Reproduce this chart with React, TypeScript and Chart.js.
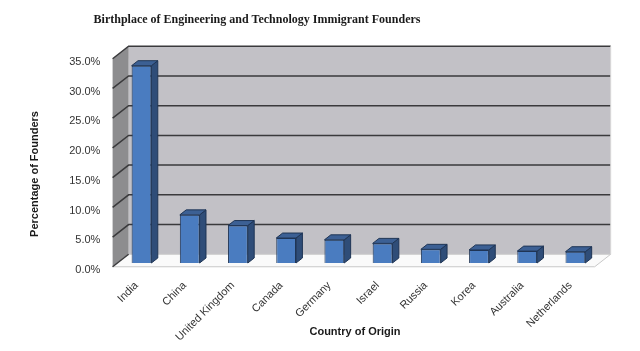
import React, { useEffect, useRef } from "react";
import { Chart, registerables } from "chart.js";

Chart.register(...registerables);

const countries = ["India", "China", "United Kingdom", "Canada", "Germany", "Israel", "Russia", "Korea", "Australia", "Netherlands"];
const founderShare = [33.2, 8.1, 6.3, 4.2, 3.9, 3.3, 2.3, 2.2, 2.0, 1.9];
const yTicks = [0, 5, 10, 15, 20, 25, 30, 35];
const chartTitle = "Birthplace of Engineering and Technology Immigrant Founders";
const yTitle = "Percentage of Founders";
const xTitle = "Country of Origin";

const DX = 16;
const DY = -12.5;
const FRONT = 0.3;
const BACK = 0.7;
const BAR_DEPTH = 0.4;

const wallPlugin = {
  id: "wall3d",
  beforeDatasetsDraw(chart: any) {
    const { ctx, chartArea } = chart;
    const { left, right, top, bottom } = chartArea;
    const y = chart.scales.y;
    const fx = -FRONT * DX, fy = -FRONT * DY;
    const bx = BACK * DX, by = BACK * DY;
    ctx.save();
    // back wall
    ctx.fillStyle = "#c2c1c6";
    ctx.fillRect(left + bx, top + by, right - left, bottom - top);
    // side wall
    ctx.fillStyle = "#8d8d8f";
    ctx.beginPath();
    ctx.moveTo(left + fx, top + fy);
    ctx.lineTo(left + bx, top + by);
    ctx.lineTo(left + bx, bottom + by);
    ctx.lineTo(left + fx, bottom + fy);
    ctx.closePath();
    ctx.fill();
    // floor
    ctx.fillStyle = "#fafafa";
    ctx.strokeStyle = "#c8c8c8";
    ctx.lineWidth = 1;
    ctx.beginPath();
    ctx.moveTo(left + fx, bottom + fy);
    ctx.lineTo(right + fx, bottom + fy);
    ctx.lineTo(right + bx, bottom + by);
    ctx.lineTo(left + bx, bottom + by);
    ctx.closePath();
    ctx.fill();
    ctx.stroke();
    // gridlines
    ctx.strokeStyle = "#3a3a3c";
    ctx.lineWidth = 1.5;
    yTicks.forEach((v) => {
      const py = y.getPixelForValue(v);
      ctx.beginPath();
      ctx.moveTo(left + fx, py + fy);
      ctx.lineTo(left + bx, py + by);
      if (v !== 0) ctx.lineTo(right + bx, py + by);
      ctx.stroke();
    });
    // back wall right edge
    ctx.strokeStyle = "#d8d8d8";
    ctx.lineWidth = 1;
    ctx.beginPath();
    ctx.moveTo(right + bx, top + by);
    ctx.lineTo(right + bx, bottom + by);
    ctx.stroke();
    ctx.restore();
  },
  afterDatasetsDraw(chart: any) {
    const { ctx } = chart;
    const meta = chart.getDatasetMeta(0);
    const ddx = BAR_DEPTH * DX, ddy = BAR_DEPTH * DY;
    ctx.save();
    ctx.strokeStyle = "#1f3555";
    ctx.lineWidth = 1;
    meta.data.forEach((bar: any) => {
      const { x, y, base, width } = bar.getProps(["x", "y", "base", "width"], true);
      const l = x - width / 2, r = x + width / 2;
      // right side
      ctx.fillStyle = "#2f4d78";
      ctx.beginPath();
      ctx.moveTo(r, y);
      ctx.lineTo(r + ddx, y + ddy);
      ctx.lineTo(r + ddx, base + ddy);
      ctx.lineTo(r, base);
      ctx.closePath();
      ctx.fill();
      ctx.stroke();
      // top
      ctx.fillStyle = "#3c6094";
      ctx.beginPath();
      ctx.moveTo(l, y);
      ctx.lineTo(l + ddx, y + ddy);
      ctx.lineTo(r + ddx, y + ddy);
      ctx.lineTo(r, y);
      ctx.closePath();
      ctx.fill();
      ctx.stroke();
    });
    ctx.restore();
  },
  afterDraw(chart: any) {
    const { ctx } = chart;
    ctx.save();
    ctx.fillStyle = "#1a1a1a";
    ctx.textAlign = "center";
    ctx.textBaseline = "middle";
    ctx.font = "bold 12px 'Liberation Serif', serif";
    ctx.fillText(chartTitle, 257, 20);
    ctx.font = "bold 11px 'Liberation Sans', Arial, sans-serif";
    ctx.fillText(xTitle, 355, 332);
    ctx.translate(35, 174);
    ctx.rotate(-Math.PI / 2);
    ctx.fillText(yTitle, 0, 0);
    ctx.restore();
  },
};

export default function App() {
  const ref = useRef<HTMLCanvasElement>(null);
  useEffect(() => {
    document.body.style.margin = "0";
    const chart = new Chart(ref.current as HTMLCanvasElement, {
      type: "bar",
      data: {
        labels: countries,
        datasets: [
          {
            data: founderShare,
            backgroundColor: "#4a7cc0",
            borderColor: "#1f3555",
            borderWidth: 1,
            categoryPercentage: 1,
            barPercentage: 0.41,
          },
        ],
      },
      options: {
        animation: false,
        responsive: false,
        devicePixelRatio: 1,
        layout: { padding: { top: 55, left: 0, right: 40.5, bottom: 0 } },
        plugins: { legend: { display: false }, tooltip: { enabled: false }, title: { display: false } },
        scales: {
          x: {
            offset: true,
            grid: { display: false, drawTicks: false },
            border: { display: false },
            afterFit: (s: any) => { s.height = 88; },
            ticks: {
              minRotation: 45,
              maxRotation: 45,
              autoSkip: false,
              padding: 16,
              labelOffset: -5,
              color: "#333",
              font: { family: "'Liberation Sans', Arial, sans-serif", size: 11 },
            },
          },
          y: {
            min: 0,
            max: 35,
            grid: { display: false, drawTicks: false },
            border: { display: false },
            afterFit: (s: any) => { s.width = 117.4; },
            afterBuildTicks: (s: any) => { s.ticks = yTicks.map((v) => ({ value: v })); },
            ticks: {
              padding: 17,
              labelOffset: 7,
              color: "#333",
              font: { family: "'Liberation Sans', Arial, sans-serif", size: 11 },
              callback: (v: any) => `${Number(v).toFixed(1)}%`,
            },
          },
        },
      },
      plugins: [wallPlugin],
    });
    return () => chart.destroy();
  }, []);
  return <canvas ref={ref} width={640} height={351} style={{ display: "block" }} />;
}
